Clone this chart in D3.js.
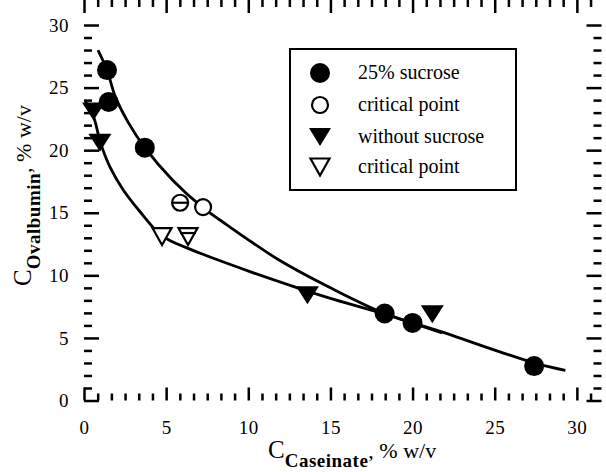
<!DOCTYPE html>
<html>
<head>
<meta charset="utf-8">
<script src="https://cdn.jsdelivr.net/npm/d3@7"></script>
<style>
  body { margin: 0; background: #fff; }
  svg text { font-family: "Liberation Serif", "Times New Roman", Times, "DejaVu Serif", serif !important; fill: #000; }
</style>
</head>
<body>
<div id="chart"></div>
<script>
// data
var sucroseX = [1.4, 1.5, 3.7, 18.3, 20.0, 27.4];
var sucroseY = [26.4, 23.85, 20.2, 6.95, 6.2, 2.75];
var critSucroseX = [5.85, 7.25];
var critSucroseY = [15.8, 15.45];
var plainX = [0.58, 0.97, 13.6, 21.2];
var plainY = [23.1, 20.6, 8.4, 6.9];
var critPlainX = [4.75, 6.33];
var critPlainY = [13.1, 13.1];

// fitted curves (traced)
var upperX = [0.85, 1.4, 1.9, 2.7, 3.7, 5.4, 7.2, 8.3, 11.9, 15.0, 18.3, 21.5, 27.4, 29.3];
var upperY = [28.0, 26.4, 24.3, 22.2, 20.2, 17.6, 15.45, 14.4, 11.2, 9.0, 6.95, 5.6, 3.0, 2.4];
var lowerX = [0.05, 0.6, 1.0, 1.6, 2.4, 3.4, 4.6, 5.2, 7.0, 10.1, 13.0, 15.0, 18.3, 21.8];
var lowerY = [24.0, 22.6, 20.6, 18.6, 16.8, 15.1, 13.3, 12.8, 11.8, 10.3, 9.0, 8.16, 6.9, 5.4];

var xTicks = [0, 5, 10, 15, 20, 25, 30];
var yTicks = [0, 5, 10, 15, 20, 25, 30];
var legendLabels = ["25% sucrose", "critical point", "without sucrose", "critical point"];

var svgWidth = 606, svgHeight = 472;
var svg = d3.select("#chart").append("svg")
    .attr("width", svgWidth).attr("height", svgHeight);

var xScale = d3.scaleLinear().domain([0, 31.5]).range([84, 601.5]);
var yScale = d3.scaleLinear().domain([0, 30.8]).range([400.5, 15]);

var left = xScale(0), right = xScale(31.5), top = yScale(30.8), bottom = yScale(0);

// minor ticks: x every 5/6, y every 1
var xMinor = d3.range(0, 31.5, 5 / 6).filter(v => Math.abs(v / 5 - Math.round(v / 5)) > 0.01);
var yMinor = d3.range(0, 30.8, 1).filter(v => v % 5 !== 0);

function drawAxis(axisGen, tr) {
    var g = svg.append("g").attr("transform", tr).call(axisGen);
    g.select(".domain").remove();
    g.selectAll("line").attr("stroke", "#000").attr("stroke-width", 2.5);
    return g;
}

// tick labels
var bx = drawAxis(d3.axisBottom(xScale).tickValues(xTicks).tickSize(0).tickPadding(20), `translate(0,${bottom})`);
bx.selectAll("text").attr("font-size", "19px").attr("letter-spacing", "0.5px");
var ly = drawAxis(d3.axisLeft(yScale).tickValues(yTicks).tickSize(0).tickPadding(15), `translate(${left},0)`);
ly.selectAll("text").attr("font-size", "19px").attr("letter-spacing", "0.5px");

// ticks pointing into the plot (axis drawn with the opposite orientation)
drawAxis(d3.axisTop(xScale).tickValues(xTicks).tickSize(13).tickFormat(""), `translate(0,${bottom})`);
drawAxis(d3.axisTop(xScale).tickValues(xMinor).tickSize(7).tickFormat(""), `translate(0,${bottom})`);
drawAxis(d3.axisBottom(xScale).tickValues(xTicks).tickSize(13).tickFormat(""), `translate(0,${top})`);
drawAxis(d3.axisBottom(xScale).tickValues(xMinor).tickSize(7).tickFormat(""), `translate(0,${top})`);
drawAxis(d3.axisRight(yScale).tickValues(yTicks).tickSize(15).tickFormat(""), `translate(${left},0)`);
drawAxis(d3.axisRight(yScale).tickValues(yMinor).tickSize(8).tickFormat(""), `translate(${left},0)`);
drawAxis(d3.axisLeft(yScale).tickValues(yTicks).tickSize(15).tickFormat(""), `translate(${right},0)`);
drawAxis(d3.axisLeft(yScale).tickValues(yMinor).tickSize(8).tickFormat(""), `translate(${right},0)`);

// frame
svg.append("rect")
    .attr("x", left).attr("y", top)
    .attr("width", right - left).attr("height", bottom - top)
    .attr("fill", "none").attr("stroke", "#000").attr("stroke-width", 3);

// curves
var line = d3.line().x(d => xScale(d[0])).y(d => yScale(d[1])).curve(d3.curveCatmullRom.alpha(0.5));
svg.append("path").datum(d3.zip(upperX, upperY))
    .attr("d", line).attr("fill", "none").attr("stroke", "#000").attr("stroke-width", 2.8);
svg.append("path").datum(d3.zip(lowerX, lowerY))
    .attr("d", line).attr("fill", "none").attr("stroke", "#000").attr("stroke-width", 2.8);

// triangle pointing down, centred on its box
function tri(w, h) {
    return `M${-w / 2},${-h / 2}L${w / 2},${-h / 2}L0,${h / 2}Z`;
}

// without sucrose (filled triangles)
svg.selectAll(".ptri").data(d3.zip(plainX, plainY)).enter().append("path")
    .attr("transform", d => `translate(${xScale(d[0])},${yScale(d[1])})`)
    .attr("d", tri(23, 18)).attr("fill", "#000");

// critical points without sucrose (open triangles)
var ct = svg.selectAll(".ctri").data(d3.zip(critPlainX, critPlainY)).enter().append("g")
    .attr("transform", d => `translate(${xScale(d[0])},${yScale(d[1])})`);
ct.append("path").attr("d", tri(19, 17))
    .attr("fill", "#fff").attr("stroke", "#000").attr("stroke-width", 2.2);
ct.filter((d, i) => i === 1).append("line")
    .attr("x1", -8).attr("x2", 8).attr("y1", -3.5).attr("y2", -3.5)
    .attr("stroke", "#000").attr("stroke-width", 2.2);

// 25% sucrose (filled circles)
svg.selectAll(".pcirc").data(d3.zip(sucroseX, sucroseY)).enter().append("circle")
    .attr("cx", d => xScale(d[0])).attr("cy", d => yScale(d[1]))
    .attr("r", 10).attr("fill", "#000");

// critical points 25% sucrose (open circles)
var cc = svg.selectAll(".ccirc").data(d3.zip(critSucroseX, critSucroseY)).enter().append("g")
    .attr("transform", d => `translate(${xScale(d[0])},${yScale(d[1])})`);
cc.append("circle").attr("r", 8).attr("fill", "#fff").attr("stroke", "#000").attr("stroke-width", 2.2);
cc.filter((d, i) => i === 0).append("line")
    .attr("x1", -8).attr("x2", 8).attr("y1", 0).attr("y2", 0)
    .attr("stroke", "#000").attr("stroke-width", 2.2);

// legend
var legend = svg.append("g");
legend.append("rect")
    .attr("x", 290).attr("y", 49).attr("width", 226).attr("height", 141)
    .attr("fill", "#fff").attr("stroke", "#000").attr("stroke-width", 2);

var rowY = [73, 105, 137, 167];
legendLabels.forEach(function(lab, i) {
    var g = legend.append("g").attr("transform", `translate(320,${rowY[i]})`);
    if (i === 0) g.append("circle").attr("r", 10).attr("fill", "#000");
    if (i === 1) g.append("circle").attr("r", 8).attr("fill", "#fff").attr("stroke", "#000").attr("stroke-width", 2.2);
    if (i === 2) g.append("path").attr("d", tri(22, 18)).attr("fill", "#000");
    if (i === 3) g.append("path").attr("d", tri(19, 17)).attr("fill", "#fff").attr("stroke", "#000").attr("stroke-width", 2.2);
    legend.append("text")
        .attr("x", 358).attr("y", rowY[i] + 6)
        .attr("font-size", "20px")
        .text(lab);
});

// axis titles
var xt = svg.append("text").attr("x", 268).attr("y", 458);
xt.append("tspan").attr("font-size", "25px").text("C");
xt.append("tspan").attr("font-size", "19px").attr("font-weight", "bold").attr("letter-spacing", "0.5px").attr("dy", 9).text("Caseinate");
xt.append("tspan").attr("font-size", "22px").attr("dy", -9).text(", % w/v");

var yt = svg.append("text").attr("transform", "translate(31,286) rotate(-90)");
yt.append("tspan").attr("font-size", "25px").text("C");
yt.append("tspan").attr("font-size", "19px").attr("font-weight", "bold").attr("letter-spacing", "0.5px").attr("dy", 9).text("Ovalbumin");
yt.append("tspan").attr("font-size", "22px").attr("dy", -9).text(", % w/v");
</script>
</body>
</html>
